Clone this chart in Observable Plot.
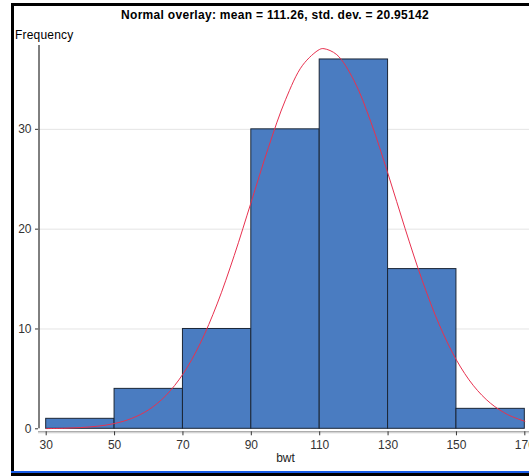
<!DOCTYPE html>
<html>
<head>
<meta charset="utf-8">
<script src="https://cdn.jsdelivr.net/npm/d3@7"></script>
<script src="https://cdn.jsdelivr.net/npm/@observablehq/plot@0.6"></script>
<style>
  html, body { margin: 0; padding: 0; background: #fff; }
  #wrap { position: relative; width: 529px; height: 476px; overflow: hidden; background: #fff;
          font-family: "Liberation Sans", Arial, sans-serif; }
  #chart { position: absolute; left: 0; top: 0; }
  .bar { position: absolute; }
  #title { position: absolute; left: 0; width: 550px; top: 8px; text-align: center;
           font-weight: bold; font-size: 12px; letter-spacing: 0.3px; color: #000; }
  #ylab { position: absolute; left: 15px; top: 28px; font-size: 12px; letter-spacing: 0.2px; color: #000; }
</style>
</head>
<body>
<div id="wrap">
  <div id="chart"></div>
  <div id="title">Normal overlay: mean = 111.26, std. dev. = 20.95142</div>
  <div id="ylab">Frequency</div>
  <div class="bar" style="left:11px;top:3px;width:518px;height:3px;background:#000"></div>
  <div class="bar" style="left:11px;top:3px;width:3px;height:473px;background:#000"></div>
  <div class="bar" style="left:11px;top:471px;width:518px;height:2px;background:#1a5ee8"></div>
  <div class="bar" style="left:11px;top:473px;width:518px;height:3px;background:#000"></div>
</div>
<script>
// Histogram bins and counts
const binStart = [30, 50, 70, 90, 110, 130, 150];
const binEnd   = [50, 70, 90, 110, 130, 150, 170];
const counts   = [1, 4, 10, 30, 37, 16, 2];

// Normal overlay curve, read as points (mean 111.26, sd 20.95142)
const curveX = [30, 35, 40, 45, 50, 55, 60, 65, 70, 75, 80, 85, 90, 95, 100, 105, 110, 111.26,
                115, 120, 125, 130, 135, 140, 145, 150, 155, 160, 165, 170];
const curveY = [0.02, 0.05, 0.12, 0.26, 0.53, 1.04, 1.91, 3.33, 5.48, 8.52, 12.51, 17.36, 22.76,
                28.18, 32.96, 36.42, 38.01, 38.08, 37.48, 34.91, 30.71, 25.53, 20.04, 14.86,
                10.41, 6.89, 4.31, 2.55, 1.42, 0.75];

const xTicks = [30, 50, 70, 90, 110, 130, 150, 170];
const yTicks = [0, 10, 20, 30];
const gridTicks = [10, 20, 30];

const bins = binStart.map((s, i) => ({x1: s, x2: binEnd[i], y: counts[i]}));
const curve = curveX.map((x, i) => ({x, y: curveY[i]}));

const xMin = 27.75, xMax = 171.37, yMax = 38.7;

const chart = Plot.plot({
  width: 529,
  height: 476,
  marginLeft: 38,
  marginRight: 0,
  marginTop: 42,
  marginBottom: 47.7,
  style: {fontFamily: "'Liberation Sans', Arial, sans-serif", background: "transparent", overflow: "hidden"},
  x: {domain: [xMin, xMax], axis: null, label: null},
  y: {domain: [0, yMax], axis: null, label: null},
  marks: [
    Plot.ruleY(gridTicks, {stroke: "#e4e4e4", strokeWidth: 1}),
    Plot.rectY(bins, {x1: "x1", x2: "x2", y: "y", fill: "#4a7cc1", stroke: "#1b2636", strokeWidth: 1}),
    Plot.line(curve, {x: "x", y: "y", stroke: "#e8314f", strokeWidth: 1, curve: "catmull-rom"}),
    // x axis etched line
    Plot.ruleY([0], {stroke: "#8a8a8a", strokeWidth: 1, dy: 3}),
    Plot.ruleY([0], {stroke: "#d0d0d0", strokeWidth: 1, dy: 4}),
    // y axis line
    Plot.ruleX([xMin], {y1: 0, y2: yMax, stroke: "#000", strokeWidth: 1, insetBottom: -3, dx: 0.5}),
    Plot.axisX(xTicks, {tickSize: 4, tickPadding: 5, dy: 3, fontSize: 12, color: "#333", stroke: "#333",
      label: null, tickFormat: d => String(d)}),
    Plot.axisY(yTicks, {anchor: "left", tickSize: 3, tickPadding: 4, fontSize: 12, color: "#333", stroke: "#333",
      label: null, tickFormat: d => String(d)}),
    Plot.text(["bwt"], {x: 100, frameAnchor: "bottom", dy: 33, fontSize: 12, fill: "#222"})
  ]
});
document.getElementById("chart").appendChild(chart);
</script>
</body>
</html>
